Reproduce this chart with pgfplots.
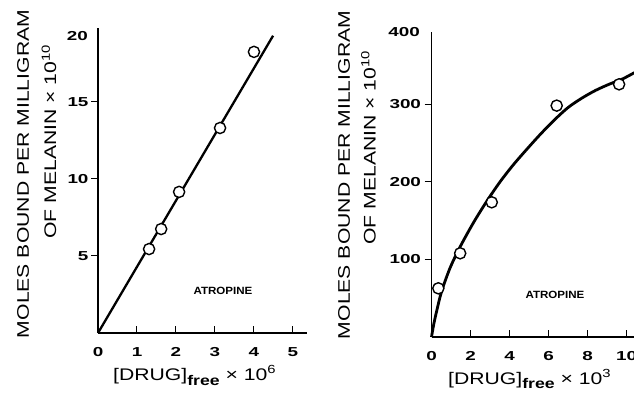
\documentclass[border=0pt]{standalone}
\usepackage{fontspec}
\setmainfont{Liberation Sans}
\usepackage{pgfplots}
\pgfplotsset{compat=1.18}
\pgfplotstableread{
x y
1.31 5.45
1.62 6.75
2.08 9.16
3.13 13.31
4.00 18.25
}\leftpts
\pgfplotstableread{
x y
0.35 62.8
1.47 108
3.09 173.8
6.42 298.5
9.62 326
}\rightpts
\newcommand{\tk}[1]{\scalebox{1.45}[1]{\bfseries\fontsize{13}{13}\selectfont #1}}
\pgfplotsset{
  resk/.style={
    scale only axis, axis lines=left,
    axis line style={-, line width=1.2pt},
    tick align=inside, major tick length=7pt,
    tick style={line width=1pt, black},
    ytick style={xshift=-7pt},
    /pgf/number format/assume math mode=true,
    xticklabel={\tk{\pgfmathprintnumber{\tick}}},
    yticklabel={\tk{\pgfmathprintnumber{\tick}}},
    xticklabel style={yshift=-11pt},
    clip=false,
  }
}
\newcommand{\ylabA}{\scalebox{1.26}[1]{MOLES BOUND PER MILLIGRAM}}
\newcommand{\ylabB}{\scalebox{1.26}[1]{OF MELANIN × 10\textsuperscript{10}}}
\begin{document}
\begin{tikzpicture}[x=1pt,y=1pt]
\path[use as bounding box] (0,0) rectangle (634,392);
% left panel
\begin{axis}[resk, at={(98pt,59pt)}, anchor=origin, width=209pt, height=305pt,
  xmin=0, xmax=5.36, ymin=0, ymax=19.8,
  xtick={0,1,2,3,4,5}, ytick={5,10,15},
  yticklabel style={xshift=-6pt}]
\addplot[black, line width=2.3pt] coordinates {(0,0) (4.49,19.3)};
\addplot[only marks, mark=*, mark size=5.6pt, mark options={fill=white, draw=black, line width=1.4pt}] table[x=x,y=y] {\leftpts};
\end{axis}
% right panel
\begin{axis}[resk, at={(431.5pt,55pt)}, anchor=origin, width=206.7pt, height=305pt,
  xmin=0, xmax=10.6, ymin=0, ymax=393.5,
  xtick={0,2,4,6,8,10}, ytick={100,200,300},
  yticklabel style={xshift=-7pt}]
\addplot[black, line width=2.8pt, smooth] coordinates {
(0,0) (0.12,17) (0.27,34) (0.52,59) (0.95,89) (1.46,116) (2.14,147)
(2.83,175) (3.51,200) (4.19,222) (4.88,242) (5.6,262) (6.3,280)
(7.0,296) (7.7,308) (8.4,318) (9.1,326) (9.8,333) (10.4,341)};
\addplot[only marks, mark=*, mark size=5.6pt, mark options={fill=white, draw=black, line width=1.4pt}] table[x=x,y=y] {\rightpts};
\end{axis}
% top tick labels
\node[anchor=east, inner sep=0pt] at (88,356) {\tk{20}};
\node[anchor=east, inner sep=0pt] at (420,360) {\tk{400}};
% y labels
\node[rotate=90, font=\fontsize{16.8}{20}\selectfont, inner sep=0pt] at (23,218) {\ylabA};
\node[rotate=90, font=\fontsize{16.8}{20}\selectfont, inner sep=0pt] at (49,250.5) {\ylabB};
\node[rotate=90, font=\fontsize{16.8}{20}\selectfont, inner sep=0pt] at (344,217) {\ylabA};
\node[rotate=90, font=\fontsize{16.8}{20}\selectfont, inner sep=0pt] at (368.5,244.5) {\ylabB};
% x labels
\node[anchor=base west, inner sep=0pt, font=\fontsize{16.8}{20}\selectfont] at (113,12)
  {\scalebox{1.26}[1]{[DRUG]\raisebox{-5pt}{\bfseries\fontsize{14}{14}\selectfont free} × 10\textsuperscript{6}}};
\node[anchor=base west, inner sep=0pt, font=\fontsize{16.8}{20}\selectfont] at (448,8)
  {\scalebox{1.26}[1]{[DRUG]\raisebox{-4pt}{\bfseries\fontsize{14}{14}\selectfont free} × 10\textsuperscript{3}}};
% ATROPINE
\node[font=\bfseries\fontsize{10.5}{12}\selectfont] at (223,101) {\scalebox{1.1}[1]{ATROPINE}};
\node[font=\bfseries\fontsize{10.5}{12}\selectfont] at (555,97) {\scalebox{1.1}[1]{ATROPINE}};
\end{tikzpicture}
\end{document}
